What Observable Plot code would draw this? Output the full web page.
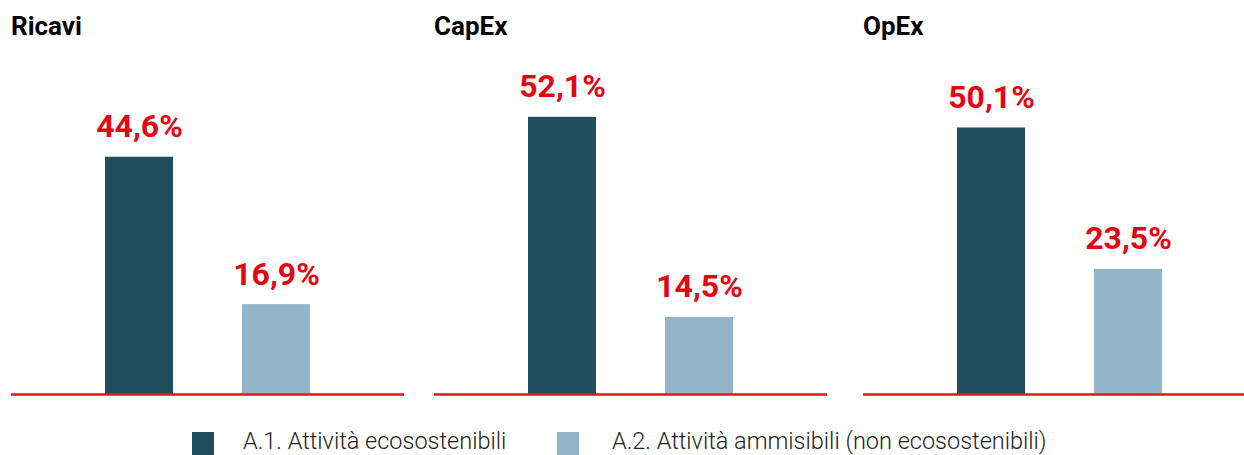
<!DOCTYPE html>
<html>
<head>
<meta charset="utf-8">
<script src="https://cdn.jsdelivr.net/npm/d3@7"></script>
<script src="https://cdn.jsdelivr.net/npm/@observablehq/plot@0.6"></script>
<style>
  html, body { margin: 0; padding: 0; background: #fff; overflow: hidden; }
  #root { position: relative; width: 1244px; height: 455px; overflow: hidden; font-family: Roboto, "Noto Sans", sans-serif; }
  .panel { position: absolute; top: 0; width: 393px; height: 400px; }
  .panel svg { max-width: none !important; }
  .title { position: absolute; left: 0; top: 13px; font-size: 26px; font-weight: 700; line-height: 1; color: #000; white-space: nowrap; }
  .swatch { position: absolute; width: 22px; height: 23px; top: 432px; }
  .ltext { position: absolute; top: 427px; font-size: 23.5px; font-weight: 300; line-height: normal; color: #222; white-space: nowrap; }
</style>
</head>
<body>
<div id="root"></div>
<script>
// ---- data ----
const panels = ["Ricavi", "CapEx", "OpEx"];
const categories = ["A.1. Attività ecosostenibili", "A.2. Attività ammisibili (non ecosostenibili)"];
const sustainable = [44.6, 52.1, 50.1];   // A.1
const eligible = [16.9, 14.5, 23.5];      // A.2
const colors = ["#214e5f", "#93b5c8"];
const labelColor = "#e30613";
const lineColor = "#e5141e";

const panelLeft = [11, 434, 863];
const root = document.getElementById("root");
const fmt = v => v.toFixed(1).replace(".", ",") + "%";

panels.forEach((name, i) => {
  const data = [
    {cat: categories[0], value: sustainable[i]},
    {cat: categories[1], value: eligible[i]}
  ];
  const div = document.createElement("div");
  div.className = "panel";
  div.style.left = panelLeft[i] + "px";
  const chart = Plot.plot({
    width: 393,
    height: 400,
    marginLeft: 0,
    marginRight: 0,
    marginTop: 21.6,
    marginBottom: 6,
    style: {background: "transparent", overflow: "visible", maxWidth: "none"},
    x: {domain: categories, paddingInner: 0.504, paddingOuter: 0.686, axis: null},
    y: {domain: [0, 70], axis: null},
    color: {domain: categories, range: colors},
    marks: [
      Plot.barY(data, {x: "cat", y: "value", fill: "cat"}),
      Plot.ruleY([0], {stroke: lineColor, strokeWidth: 2.6}),
      Plot.text(data, {
        x: "cat", y: "value", text: d => fmt(d.value),
        lineAnchor: "bottom", dy: -20,
        fill: labelColor, fontSize: 32, fontWeight: 700,
        fontFamily: "Roboto, sans-serif"
      })
    ]
  });
  div.appendChild(chart);
  const t = document.createElement("div");
  t.className = "title";
  t.textContent = name;
  div.appendChild(t);
  root.appendChild(div);
});

// legend
const swatchX = [192, 557];
const textX = [243, 612];
categories.forEach((c, i) => {
  const s = document.createElement("div");
  s.className = "swatch";
  s.style.left = swatchX[i] + "px";
  s.style.background = colors[i];
  root.appendChild(s);
  const t = document.createElement("div");
  t.className = "ltext";
  t.style.left = textX[i] + "px";
  t.textContent = c;
  root.appendChild(t);
});
</script>
</body>
</html>
